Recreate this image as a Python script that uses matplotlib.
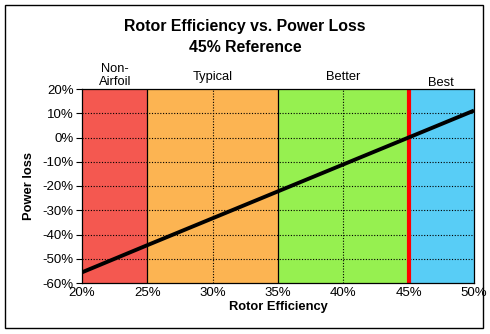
import matplotlib
matplotlib.use("Agg")
import matplotlib.pyplot as plt
from matplotlib.patches import Rectangle

plt.rcParams['font.family'] = ['Liberation Sans', 'DejaVu Sans']

## data
efficiency = [0.20, 0.25, 0.30, 0.35, 0.40, 0.45, 0.50]
power_loss = [-0.556, -0.444, -0.333, -0.222, -0.111, 0.0, 0.111]

zone_names = ['Non-\nAirfoil', 'Typical', 'Better', 'Best']
zone_edges = [0.20, 0.25, 0.35, 0.45, 0.50]
zone_colors = ['#f45850', '#fcb452', '#96f050', '#58cdf6']
zone_label_y = [1.005, 1.03, 1.03, 1.0]
reference = 0.45

xticks = [0.20, 0.25, 0.30, 0.35, 0.40, 0.45, 0.50]
yticks = [-0.6, -0.5, -0.4, -0.3, -0.2, -0.1, 0.0, 0.1, 0.2]

fig = plt.figure(figsize=(4.9, 3.34), dpi=100)
ax = fig.add_axes([82/490, 1 - 283/334, 392/490, 194/334])

## 背景分区
for i in range(len(zone_names)):
    ax.axvspan(zone_edges[i], zone_edges[i+1], color=zone_colors[i], lw=0, zorder=0)
    ax.text((zone_edges[i] + zone_edges[i+1]) / 2, zone_label_y[i], zone_names[i],
            transform=ax.get_xaxis_transform(), ha='center', va='bottom',
            fontsize=9.3, linespacing=1.15)

## grid
for y in yticks[1:-1]:
    ax.axhline(y, color='black', lw=0.8, ls=(0, (1, 1.5)), zorder=1)
for x in [0.30, 0.40]:
    ax.axvline(x, color='black', lw=0.8, ls=(0, (1, 1.5)), zorder=1)
for x in [0.25, 0.35]:
    ax.axvline(x, color='black', lw=0.9, zorder=1)

ax.axvline(reference, color='#ff0000', lw=3, zorder=2)
ax.plot(efficiency, power_loss, color='black', lw=2.8, zorder=3, solid_capstyle='butt')

ax.set_xlim(0.20, 0.50)
ax.set_ylim(-0.6, 0.2)
ax.set_xticks(xticks)
ax.set_xticklabels(['%d%%' % round(v * 100) for v in xticks], fontsize=9.5)
ax.set_yticks(yticks)
ax.set_yticklabels(['%d%%' % round(v * 100) for v in yticks], fontsize=9.5)
ax.tick_params(axis='x', length=0, pad=3)
ax.tick_params(axis='y', length=4, width=0.8, pad=2)
for spine in ax.spines.values():
    spine.set_linewidth(0.9)

ax.set_xlabel('Rotor Efficiency', fontsize=9.3, fontweight='bold', labelpad=1.5)
ax.set_ylabel('Power loss', fontsize=9.3, fontweight='bold', labelpad=5)

fig.text(0.5, 1 - 37/334, 'Rotor Efficiency vs. Power Loss\n45% Reference',
         ha='center', va='center', fontsize=11.4, fontweight='bold', linespacing=1.45)

## 外框
fig.patches.append(Rectangle((5/490, 1 - 328/334), 478/490, 323/334, transform=fig.transFigure,
                             fill=False, ec='black', lw=1))

fig.savefig('out.png', dpi=100)
